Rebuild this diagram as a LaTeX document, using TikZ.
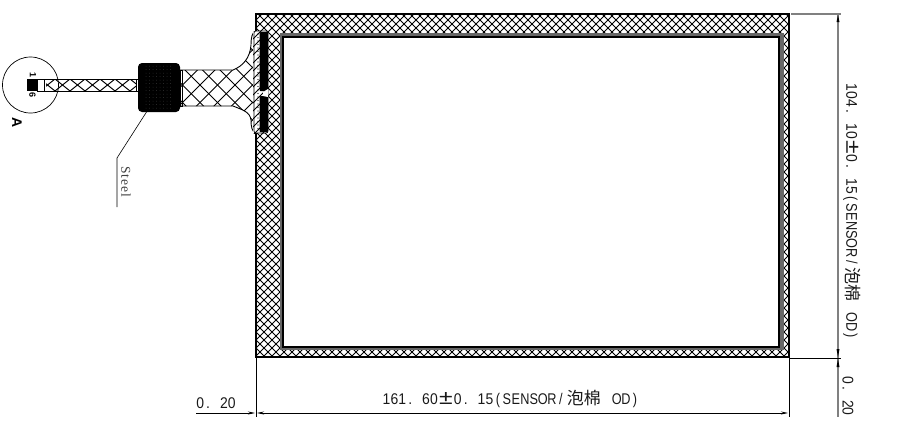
\documentclass[tikz,border=0pt]{standalone}
\usepackage{graphicx}
\usepackage{fontspec}
\setmainfont{Liberation Sans}
\newfontfamily\cjk{Noto Sans CJK SC}
\newfontfamily\serifx[LetterSpace=8]{Liberation Serif}
\usetikzlibrary{arrows.meta}
\definecolor{dimgray}{gray}{0.5}
\newcommand{\dg}[1]{\makebox[7.9pt][c]{\scalebox{.9}[1]{#1}}}
\newcommand{\lt}[1]{\makebox[9pt][c]{\scalebox{.82}[1]{#1}}}
\newcommand{\gapval}{\dg{0}\dg{.}\dg{}\dg{2}\dg{0}}
\newcommand{\tailtext}{\makebox[16pt][c]{\scalebox{1.6}[1.3]{±}}\dg{0}\dg{.}\dg{}\dg{1}\dg{5}\lt{(}\lt{S}\lt{E}\lt{N}\lt{S}\lt{O}\lt{R}\lt{/}\makebox[37pt][c]{\cjk\fontsize{17}{17}\selectfont 泡棉}\hspace{10pt}\lt{O}\lt{D}\lt{)}}
\tikzset{
  hatchline/.style={line width=0.85pt,black},
  tailhatch/.style={line width=1pt,black},
  outline/.style={line width=1.2pt,black},
  dimline/.style={line width=0.7pt,black},
  graydim/.style={line width=1.1pt,dimgray},
  tip/.style={-{Stealth[length=7pt,width=3pt]}},
  dimtext/.style={inner sep=0pt,font=\fontsize{15.5}{17}\selectfont,text=black!90},
}
\newcommand{\hatchgrid}[3]{%
  \foreach \k in {#2,...,#3}{
    \draw[hatchline] ({\k*#1},-20) -- ({\k*#1+470},450);
    \draw[hatchline] ({\k*#1},-20) -- ({\k*#1-470},450);
  }}
\begin{document}
\begin{tikzpicture}[x=1pt,y=-1pt]
\useasboundingbox (0,0) rectangle (906,429);
% frame
\begin{scope}
  \clip (256,14) rectangle (789,357);
  \hatchgrid{8}{-30}{190}
\end{scope}
\draw[outline] (256,14) rectangle (789,357);
\fill[black!60] (280,33) rectangle (784,350);
\draw[line width=1.4pt,fill=white] (283,37) rectangle (779,347);
% connector tail
\begin{scope}
  \clip (46,79) rectangle (136,91);
  \foreach \k in {-1,...,10}{
    \draw[tailhatch] ({40+\k*15},79) -- ({55+\k*15},91);
    \draw[tailhatch] ({55+\k*15},79) -- ({40+\k*15},91);
  }
\end{scope}
\draw[line width=0.9pt] (37,79) rectangle (136,91);
\fill (27,79) rectangle (37,91);
\draw[line width=1.4pt] (44.5,79) -- (44.5,91);
\draw[line width=0.8pt] (136,79) rectangle (138,91);
% flared part
\def\flare{(180,70) -- (233,70) .. controls (243,66) and (250,58) .. (251,45) .. controls (251,38) and (252,32) .. (256,31)
  -- (256,133) .. controls (252,132) and (251,127) .. (251,120) .. controls (250,112) and (243,110) .. (233,106) -- (180,106) -- cycle}
\begin{scope}
  \clip \flare;
  \foreach \k in {-12,...,12}{
    \draw[tailhatch] ({200+\k*17.5},-20) -- ({380+\k*17.5},160);
    \draw[tailhatch] ({200+\k*17.5},-20) -- ({20+\k*17.5},160);
  }
\end{scope}
\draw[line width=0.9pt] \flare;
\draw[line width=0.8pt] (180,70) rectangle (182,106);
% FPC contact strip
\fill[white] (253,31) rectangle (268,133);
\begin{scope}
  \clip (253,31) rectangle (268,133);
  \hatchgrid{8}{30}{90}
\end{scope}
\draw[line width=0.7pt,rounded corners=2pt] (254,31) rectangle (268,133);
\fill[rounded corners=1pt] (259.5,32) rectangle (268,91);
\fill[rounded corners=1pt] (259.5,96) rectangle (268,132);
\foreach \y in {34,37.5,...,131}{\fill[black] (258,\y) circle (0.7pt);}
\fill[white] (263,92) -- (268,89) -- (268,97) -- (263,96) -- cycle;
% steel block
\fill[rounded corners=4pt] (138,63) rectangle (180,112);
\foreach \x in {146,149.5,...,172}{\foreach \y in {66,69.5,...,110}{\fill[black!45] (\x,\y) circle (0.25pt);}}
% detail circle
\draw[line width=0.7pt] (30.5,85) circle (28);
\node[inner sep=0pt,rotate=-90,font=\bfseries\fontsize{9}{9}\selectfont] (one) at (33,75) {1};
\node[inner sep=0pt,rotate=-90,font=\bfseries\fontsize{9}{9}\selectfont] (six) at (32.5,95) {6};
\node[inner sep=0pt,rotate=-90,font=\bfseries\fontsize{14}{14}\selectfont] (detailA) at (17,123) {A};
% steel leader
\coordinate (leadA) at (146.5,112);
\coordinate (leadB) at (117,158);
\coordinate (leadC) at (117,207);
\draw[line width=0.6pt] (leadA) -- (leadB) -- (leadC);
\node[inner sep=0pt,rotate=-90,font=\serifx\fontsize{13.5}{14}\selectfont,text=black!75] (steel) at (126,182) {Steel};
% right dimension
\coordinate (rTopA) at (791,14);
\coordinate (rTopB) at (841,14);
\coordinate (rBotA) at (790,358);
\coordinate (rBotB) at (841,358);
\coordinate (rLineTop) at (838,15);
\coordinate (rLineEnd) at (838,417);
\draw[graydim] (rTopA) -- (rTopB);
\draw[graydim] (rLineTop) -- (rLineEnd);
\draw[line width=1pt] (rBotA) -- (rBotB);
\fill (838,15) -- (839.5,22) -- (836.5,22) -- cycle;
\fill (838,357) -- (839.5,349) -- (836.5,349) -- cycle;
\fill (838,359) -- (839.5,367) -- (836.5,367) -- cycle;
\node[dimtext,rotate=-90] (dimH) at (852,212) {\dg{1}\dg{0}\dg{4}\dg{.}\dg{}\dg{1}\dg{0}\tailtext};
\node[dimtext,rotate=-90] (gapR) at (848,396) {\gapval};
% bottom dimension
\coordinate (bL) at (256,358);
\coordinate (bLe) at (256,417);
\coordinate (bR) at (789,358);
\coordinate (bRe) at (789,417);
\coordinate (dA) at (196,413);
\coordinate (dB) at (255,413);
\coordinate (dC) at (257,413);
\coordinate (dD) at (788,413);
\draw[line width=0.9pt] (bL) -- (bLe);
\draw[line width=0.7pt] (bR) -- (bRe);
\draw[dimline,tip] (dA) -- (dB);
\draw[dimline,{Stealth[length=7pt,width=3pt]}-{Stealth[length=7pt,width=3pt]}] (dC) -- (dD);
\node[dimtext] (gapL) at (216,403) {\gapval};
\node[dimtext] (dimW) at (511,399) {\dg{1}\dg{6}\dg{1}\dg{.}\dg{}\dg{6}\dg{0}\tailtext};
\end{tikzpicture}
\end{document}
